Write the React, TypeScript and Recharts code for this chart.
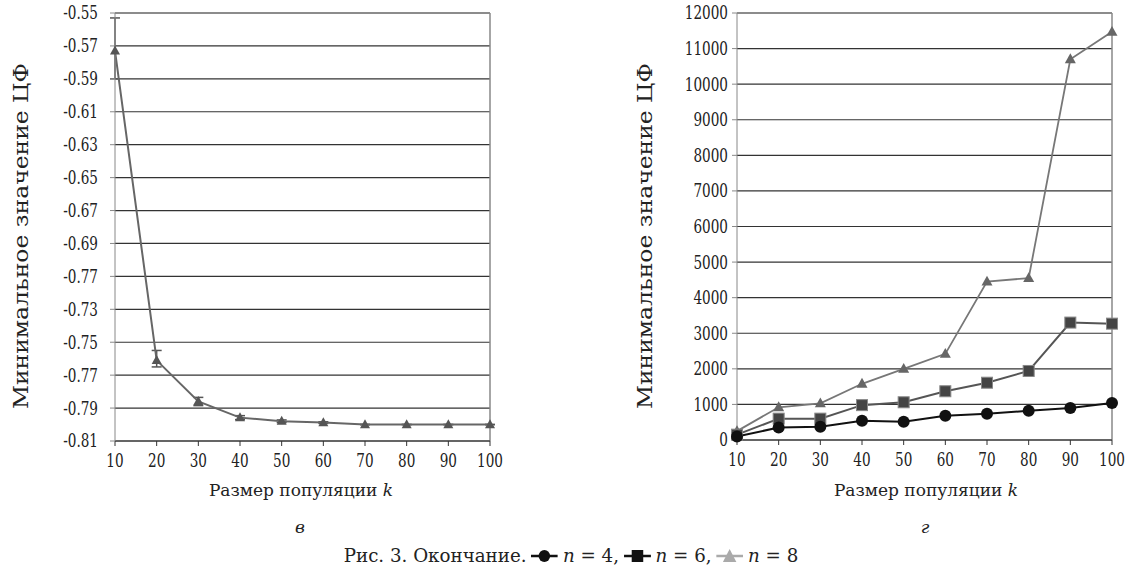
import { LineChart, Line, XAxis, YAxis, CartesianGrid, ErrorBar, ReferenceLine } from "recharts";

// population sizes k
const sizes = [10, 20, 30, 40, 50, 60, 70, 80, 90, 100];

// panel "в": minimum objective value with error spread
const leftMin = [-0.573, -0.761, -0.786, -0.7958, -0.798, -0.7988, -0.8, -0.8, -0.8, -0.8];
const leftErrLow = [0.017, 0.004, 0.0025, 0.0012, 0.0008, 0.0005, 0, 0, 0, 0];
const leftErrHigh = [0.02, 0.006, 0.0025, 0.0012, 0.0008, 0.0005, 0, 0, 0, 0];
const leftTicks = [-0.55, -0.57, -0.59, -0.61, -0.63, -0.65, -0.67, -0.69, -0.71, -0.73, -0.75, -0.77, -0.79, -0.81];
const leftTickLabels = ["-0.55", "-0.57", "-0.59", "-0.61", "-0.63", "-0.65", "-0.67", "-0.69", "-0.77", "-0.73", "-0.75", "-0.77", "-0.79", "-0.81"];

// panel "г": three problem sizes
const n4 = [100, 350, 370, 540, 510, 680, 740, 820, 900, 1040];
const n6 = [150, 600, 600, 980, 1060, 1370, 1610, 1940, 3300, 3270];
const n8 = [250, 920, 1030, 1580, 2000, 2420, 4450, 4550, 10700, 11470];
const rightTicks = [0, 1000, 2000, 3000, 4000, 5000, 6000, 7000, 8000, 9000, 10000, 11000, 12000];

const yTitle = "Минимальное значение ЦФ";
const xTitle = "Размер популяции ";

const leftData = sizes.map((k, i) => ({ k, v: leftMin[i], err: [leftErrLow[i], leftErrHigh[i]] }));
const rightData = sizes.map((k, i) => ({ k, n4: n4[i], n6: n6[i], n8: n8[i] }));

const serif = "DejaVu Serif";

// condensed serif tick text, close to the Times look of the scan
const makeTick = (labels?: string[]) => (props: any) => {
  const { x, y, payload, textAnchor, index, orientation } = props;
  const text = labels ? labels[index] : String(payload.value);
  const dy = orientation === "bottom" ? "0.75em" : "0.36em";
  return (
    <g transform={`translate(${x},${y})`}>
      <text
        transform="scale(0.8,1.05)"
        textAnchor={textAnchor}
        dy={dy}
        fontSize={17}
        fill="#222"
        fontFamily={serif}
      >
        {text}
      </text>
    </g>
  );
};

const triangle = (fill: string, s: number) => (props: any) => {
  const { cx, cy, index } = props;
  if (cx == null || cy == null) return <g key={`t-${index}`} />;
  const h = s * 0.9;
  return (
    <path
      key={`t-${index}`}
      d={`M${cx},${cy - h * 0.6} L${cx + s / 2},${cy + h * 0.4} L${cx - s / 2},${cy + h * 0.4} Z`}
      fill={fill}
    />
  );
};

const square = (fill: string, s: number) => (props: any) => {
  const { cx, cy, index } = props;
  if (cx == null || cy == null) return <g key={`s-${index}`} />;
  return <rect key={`s-${index}`} x={cx - s / 2} y={cy - s / 2} width={s} height={s} fill={fill} stroke="#888" strokeWidth={1} />;
};

const circle = (fill: string, r: number) => (props: any) => {
  const { cx, cy, index } = props;
  if (cx == null || cy == null) return <g key={`c-${index}`} />;
  return <circle key={`c-${index}`} cx={cx} cy={cy} r={r} fill={fill} />;
};

function Titles() {
  const yT = (x: number) => (
    <text
      transform={`translate(${x},236) rotate(-90)`}
      textAnchor="middle"
      dy="0.35em"
      fontSize={20}
      fontFamily={serif}
      fill="#222"
      textLength={346}
      lengthAdjust="spacingAndGlyphs"
    >
      {yTitle}
    </text>
  );
  const xT = (x: number) => (
    <text x={x} y={490} textAnchor="middle" dy="0.35em" fontSize={17} fontFamily={serif} fill="#222">
      {xTitle}
      <tspan fontStyle="italic">k</tspan>
    </text>
  );
  const sub = (x: number, s: string) => (
    <text x={x} y={527} textAnchor="middle" dy="0.35em" fontSize={17} fontStyle="italic" fontFamily={serif} fill="#222">
      {s}
    </text>
  );
  return (
    <svg width={1142} height={576} style={{ position: "absolute", left: 0, top: 0, pointerEvents: "none" }}>
      {yT(21)}
      {yT(645)}
      {xT(301)}
      {xT(926)}
      {sub(300, "в")}
      {sub(925, "г")}
    </svg>
  );
}

function LegendIcon({ kind, color }: { kind: string; color: string }) {
  return (
    <svg width={28} height={16} style={{ verticalAlign: "-2px", margin: "0 5px" }}>
      <line x1={0} y1={8} x2={28} y2={8} stroke={color} strokeWidth={2.5} />
      {kind === "circle" && <circle cx={14} cy={8} r={6} fill={color} />}
      {kind === "square" && <rect x={8} y={2} width={12} height={12} fill={color} />}
      {kind === "triangle" && <path d="M14,1 L21,14 L7,14 Z" fill={color} />}
    </svg>
  );
}

export default function App() {
  return (
    <div style={{ position: "absolute", left: 0, top: 0, width: 1142, height: 576, background: "#fff" }}>
      <div style={{ position: "absolute", left: 0, top: 0 }}>
        <LineChart width={520} height={500} data={leftData} margin={{ top: 13, right: 30, bottom: 0, left: 0 }}>
          <CartesianGrid vertical={false} stroke="#333" strokeWidth={1.2} />
          <XAxis
            dataKey="k"
            type="number"
            domain={[10, 100]}
            ticks={sizes}
            interval={0}
            height={59}
            tick={makeTick()}
            tickSize={5}
            tickMargin={8}
            stroke="#333"
          />
          <YAxis
            type="number"
            domain={[-0.81, -0.55]}
            ticks={leftTicks}
            interval={0}
            width={115}
            tick={makeTick(leftTickLabels)}
            tickSize={5}
            tickMargin={12}
            stroke="#888"
          />
          <ReferenceLine y={-0.55} stroke="#888" strokeWidth={1.5} />
          <ReferenceLine x={100} stroke="#888" strokeWidth={1.5} />
          <Line
            dataKey="v"
            stroke="#666"
            strokeWidth={2}
            dot={triangle("#555", 10)}
            isAnimationActive={false}
          >
            <ErrorBar dataKey="err" direction="y" width={5} stroke="#555" strokeWidth={1.5} />
          </Line>
        </LineChart>
      </div>

      <div style={{ position: "absolute", left: 640, top: 0 }}>
        <LineChart width={502} height={500} data={rightData} margin={{ top: 13, right: 30, bottom: 0, left: 0 }}>
          <CartesianGrid vertical={false} stroke="#333" strokeWidth={1.2} />
          <XAxis
            dataKey="k"
            type="number"
            domain={[10, 100]}
            ticks={sizes}
            interval={0}
            height={60}
            tick={makeTick()}
            tickSize={5}
            tickMargin={8}
            stroke="#333"
          />
          <YAxis
            type="number"
            domain={[0, 12000]}
            ticks={rightTicks}
            interval={0}
            width={97}
            tick={makeTick()}
            tickSize={5}
            tickMargin={4}
            stroke="#888"
          />
          <ReferenceLine y={12000} stroke="#888" strokeWidth={1.5} />
          <ReferenceLine x={100} stroke="#888" strokeWidth={1.5} />
          <Line dataKey="n8" stroke="#777" strokeWidth={1.8} dot={triangle("#666", 11)} isAnimationActive={false} />
          <Line dataKey="n6" stroke="#555" strokeWidth={2} dot={square("#444", 11)} isAnimationActive={false} />
          <Line dataKey="n4" stroke="#111" strokeWidth={2} dot={circle("#111", 6)} isAnimationActive={false} />
        </LineChart>
      </div>

      <Titles />

      <div
        style={{
          position: "absolute",
          left: 571,
          top: 555,
          transform: "translate(-50%, -50%) scaleX(0.96)",
          fontFamily: serif,
          fontSize: 19,
          color: "#222",
          whiteSpace: "nowrap",
        }}
      >
        Рис. 3. Окончание.
        <LegendIcon kind="circle" color="#111" />
        <i>n</i> = 4,
        <LegendIcon kind="square" color="#111" />
        <i>n</i> = 6,
        <LegendIcon kind="triangle" color="#aaa" />
        <i>n</i> = 8
      </div>
    </div>
  );
}
